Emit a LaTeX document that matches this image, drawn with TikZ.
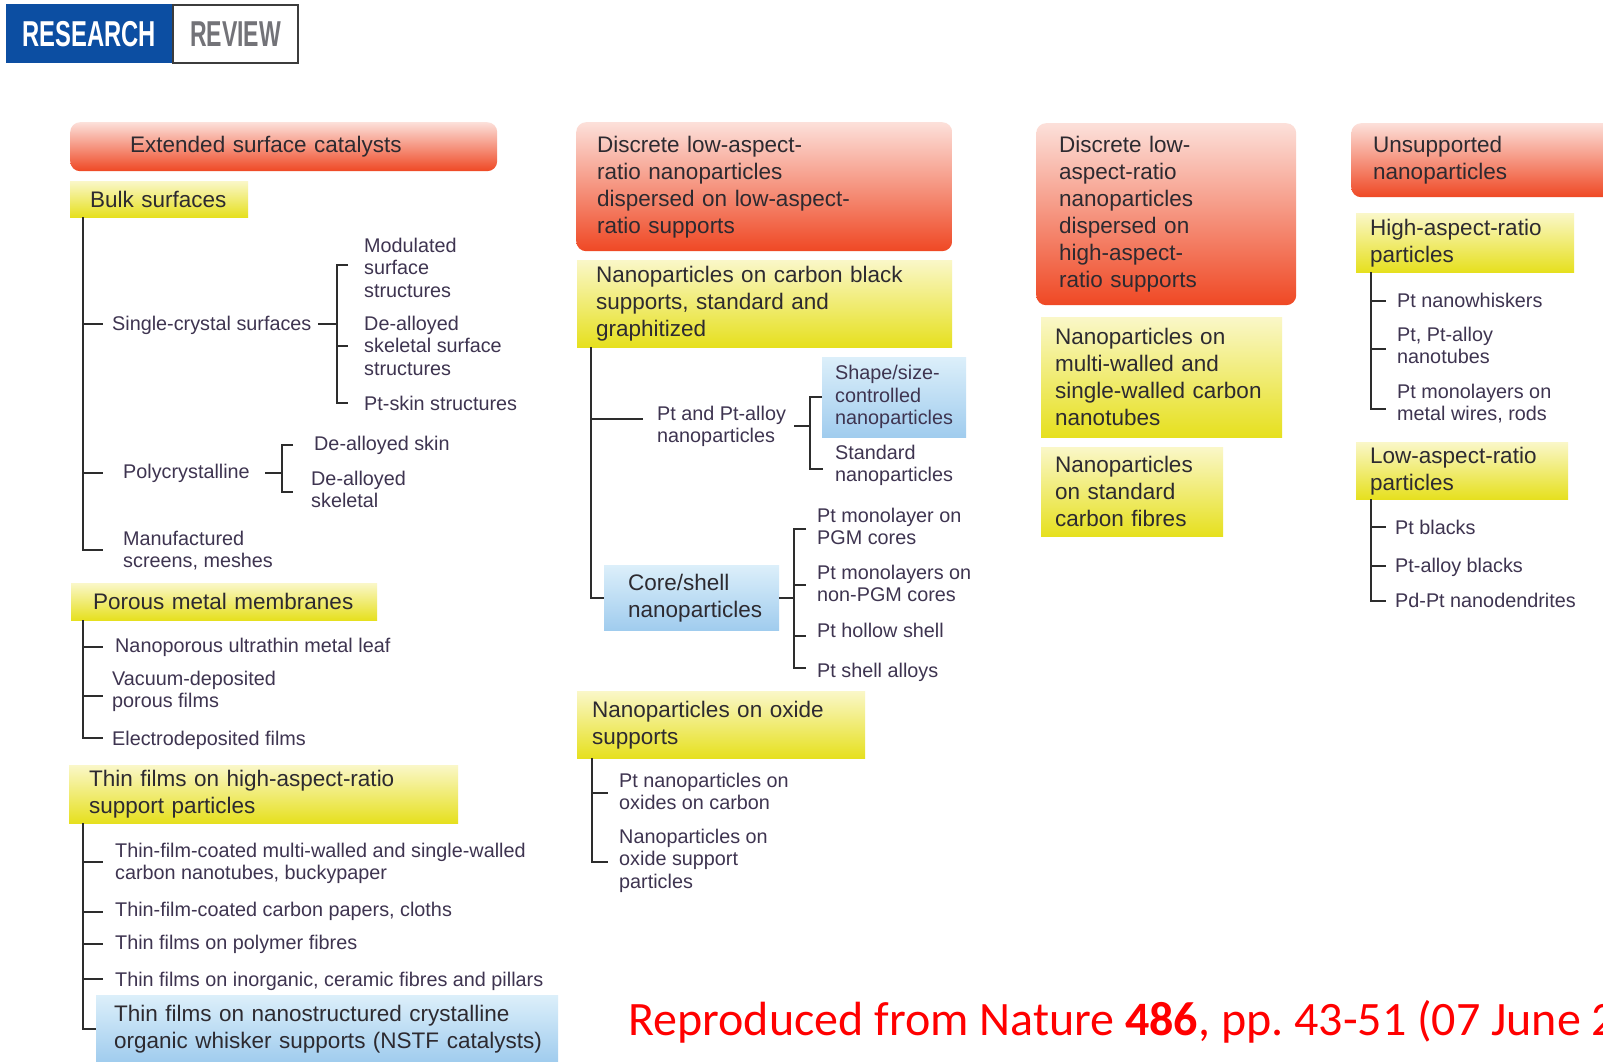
\documentclass[tikz,border=0pt]{standalone}
\usepackage{fontspec}
\usepackage{graphicx}
\setmainfont{Liberation Sans}
\newfontfamily\calib{Carlito}
\hyphenpenalty=10000
\exhyphenpenalty=10000
\frenchspacing
\definecolor{redtop}{RGB}{252,224,218}
\definecolor{redbot}{RGB}{239,72,36}
\definecolor{yeltop}{RGB}{250,247,200}
\definecolor{yelbot}{RGB}{230,224,30}
\definecolor{blutop}{RGB}{220,239,250}
\definecolor{blubot}{RGB}{160,204,238}
\definecolor{headc}{RGB}{45,42,48}
\definecolor{subc}{RGB}{62,52,80}
\definecolor{linec}{RGB}{45,45,45}
\definecolor{badgeblue}{RGB}{12,78,162}
\definecolor{revgrey}{RGB}{115,115,120}
\definecolor{revframe}{RGB}{60,60,60}
\definecolor{credred}{RGB}{255,0,0}
\newcommand\ml[1]{\begin{tabular}[t]{@{}l@{}}#1\end{tabular}}
\begin{document}
\begin{tikzpicture}[x=1pt,y=-1pt,
  hfont/.style={font=\fontsize{22.5}{27}\selectfont},
  sfont/.style={font=\fontsize{19.8}{22.5}\selectfont},
  boxbase/.style={rectangle, anchor=north west, inner ysep=0pt, align=left, text=headc, hfont},
  bx/.style n args={4}{minimum width=#1pt, minimum height=#2pt, inner xsep=#3pt, text width=#4pt},
  redbox/.style={boxbase, rounded corners=10pt, top color=redtop, bottom color=redbot},
  yelbox/.style={boxbase, top color=yeltop, bottom color=yelbot},
  blubox/.style={boxbase, top color=blutop, bottom color=blubot},
  leaf/.style={anchor=base west, inner sep=0pt, text=subc, sfont},
  tree/.style={draw=linec, line width=1.6pt},
]
\useasboundingbox (0,0) rectangle (1603,1062);
\clip (0,0) rectangle (1603,1062);
\fill[white] (0,0) rectangle (1603,1062);

% badge
\node[fill=badgeblue, anchor=north west, minimum width=166pt, minimum height=59pt, inner sep=0pt,
  text=white, font=\bfseries\fontsize{36}{36}\selectfont] (res) at (6,4) {\scalebox{0.66}[1]{RESEARCH}};
\node[draw=revframe, line width=2pt, fill=white, anchor=north west, minimum width=125pt, minimum height=58pt,
  inner sep=0pt, text=revgrey, font=\bfseries\fontsize{36}{36}\selectfont] (rev) at (172,4) {\scalebox{0.64}[1]{REVIEW}};

% ---------------- column 1
\node[redbox, bx={427}{49}{60}{307}] (ext) at (70,122) {Extended surface catalysts};
\node[yelbox, bx={178}{36}{20}{138}] (bulk) at (70,181) {\mbox{Bulk surfaces}};

\node[leaf] (single) at (112,330) {Single-crystal surfaces};
\node[leaf] (modul) at (364,252) {\ml{Modulated\\surface\\structures}};
\node[leaf] (dealsk) at (364,330) {\ml{De-alloyed\\skeletal surface\\structures}};
\node[leaf] (ptskin) at (364,410) {Pt-skin structures};
\node[leaf] (poly) at (123,478) {Polycrystalline};
\node[leaf] (dskin) at (314,450) {De-alloyed skin};
\node[leaf] (dskel) at (311,485) {\ml{De-alloyed\\skeletal}};
\node[leaf] (manuf) at (123,545) {\ml{Manufactured\\screens, meshes}};

\coordinate (b0) at (83,217);
\coordinate (bS) at (103,324);
\coordinate (bP) at (103,473);
\coordinate (bM) at (103,550);
\draw[tree] (b0) |- (bM);
\draw[tree] (b0 |- bS) -- (bS);
\draw[tree] (b0 |- bP) -- (bP);

\coordinate (sA) at (318,324);
\coordinate (sB) at (337,324);
\coordinate (s1) at (348,265);
\coordinate (s2) at (348,346);
\coordinate (s3) at (348,403);
\draw[tree] (sA) -- (sB);
\draw[tree] (s1) -| (sB) |- (s3);
\draw[tree] (sB |- s2) -- (s2);

\coordinate (pA) at (265,473);
\coordinate (pB) at (282,473);
\coordinate (p1) at (293,445);
\coordinate (p2) at (293,492);
\draw[tree] (pA) -- (pB);
\draw[tree] (p1) -| (pB) |- (p2);

\node[yelbox, bx={306}{37}{22}{262}] (porous) at (71,583) {\mbox{Porous metal membranes}};
\node[leaf] (nanop) at (115,652) {Nanoporous ultrathin metal leaf};
\node[leaf] (vacuum) at (112,685) {\ml{Vacuum-deposited\\porous films}};
\node[leaf] (electro) at (112,745) {Electrodeposited films};
\coordinate (m0) at (83,620);
\coordinate (m1) at (103,647);
\coordinate (m2) at (103,696);
\coordinate (m3) at (103,738);
\draw[tree] (m0) |- (m3);
\draw[tree] (m0 |- m1) -- (m1);
\draw[tree] (m0 |- m2) -- (m2);

\node[yelbox, bx={389}{58}{20}{349}] (thin) at (69,765) {\mbox{Thin films on high-aspect-ratio}\\\mbox{support particles}};
\node[leaf] (tf1) at (115,857) {\ml{Thin-film-coated multi-walled and single-walled\\carbon nanotubes, buckypaper}};
\node[leaf] (tf2) at (115,916) {Thin-film-coated carbon papers, cloths};
\node[leaf] (tf3) at (115,949) {Thin films on polymer fibres};
\node[leaf] (tf4) at (115,986) {Thin films on inorganic, ceramic fibres and pillars};
\node[blubox, bx={462}{67}{18}{426}] (nstf) at (96,995) {\mbox{Thin films on nanostructured crystalline}\\\mbox{organic whisker supports (NSTF catalysts)}};
\coordinate (t0) at (83,823);
\coordinate (t1) at (103,862);
\coordinate (t2) at (103,912);
\coordinate (t3) at (103,944);
\coordinate (t4) at (103,979);
\draw[tree] (t0) |- (nstf.west);
\draw[tree] (t0 |- t1) -- (t1);
\draw[tree] (t0 |- t2) -- (t2);
\draw[tree] (t0 |- t3) -- (t3);
\draw[tree] (t0 |- t4) -- (t4);

% ---------------- column 2
\node[redbox, bx={376}{129}{21}{334}] (disc1) at (576,122) {Discrete low-aspect-\\ratio nanoparticles\\dispersed on low-aspect-\\ratio supports};
\node[yelbox, bx={375}{87}{19}{337}] (cb) at (577,260) {\mbox{Nanoparticles on carbon black}\\supports, standard and\\graphitized};
\node[leaf] (ptalloy) at (657,420) {\ml{Pt and Pt-alloy\\nanoparticles}};
\node[blubox, bx={144}{80}{13}{118}, sfont, text=subc] (shape) at (822,357) {Shape/size-\\controlled\\\mbox{nanoparticles}};
\node[leaf] (stdnp) at (835,459) {\ml{Standard\\nanoparticles}};
\node[blubox, bx={175}{65}{24}{127}] (core) at (604,565) {Core/shell\\\mbox{nanoparticles}};
\node[leaf] (cs1) at (817,522) {\ml{Pt monolayer on\\PGM cores}};
\node[leaf] (cs2) at (817,579) {\ml{Pt monolayers on\\non-PGM cores}};
\node[leaf] (cs3) at (817,637) {Pt hollow shell};
\node[leaf] (cs4) at (817,677) {Pt shell alloys};

\coordinate (c0) at (591,347);
\coordinate (cP) at (643,419);
\draw[tree] (c0) |- (core.west);
\draw[tree] (c0 |- cP) -- (cP);
\coordinate (qA) at (794,426);
\coordinate (qB) at (810,426);
\coordinate (q2) at (823,469);
\draw[tree] (qA) -- (qB);
\draw[tree] (shape.west) -| (qB) |- (q2);
\coordinate (cB) at (794,597);
\coordinate (k1) at (806,529);
\coordinate (k2) at (806,585);
\coordinate (k3) at (806,636);
\coordinate (k4) at (806,668);
\draw[tree] (core.east) -- (core.east -| cB);
\draw[tree] (k1) -| (cB) |- (k4);
\draw[tree] (cB |- k2) -- (k2);
\draw[tree] (cB |- k3) -- (k3);

\node[yelbox, bx={288}{67}{15}{258}] (oxide) at (577,691) {\mbox{Nanoparticles on oxide}\\supports};
\node[leaf] (ox1) at (619,787) {\ml{Pt nanoparticles on\\oxides on carbon}};
\node[leaf] (ox2) at (619,843) {\ml{Nanoparticles on\\oxide support\\particles}};
\coordinate (o0) at (592,758);
\coordinate (o1) at (608,793);
\coordinate (o2) at (608,862);
\draw[tree] (o0) |- (o2);
\draw[tree] (o0 |- o1) -- (o1);

% ---------------- column 3
\node[redbox, bx={260}{182}{23}{214}] (disc2) at (1036,123) {Discrete low-\\aspect-ratio\\nanoparticles\\dispersed on\\high-aspect-\\ratio supports};
\node[yelbox, bx={241}{120}{14}{213}] (mw) at (1041,317) {Nanoparticles on\\multi-walled and\\\mbox{single-walled carbon}\\nanotubes};
\node[yelbox, bx={182}{89}{14}{154}] (cf) at (1041,447) {Nanoparticles\\on standard\\\mbox{carbon fibres}};

% ---------------- column 4
\node[redbox, bx={300}{74}{22}{256}] (unsup) at (1351,123) {Unsupported\\nanoparticles};
\node[yelbox, bx={218}{59}{14}{190}] (hi) at (1356,213) {\mbox{High-aspect-ratio}\\particles};
\node[leaf] (h1) at (1397,307) {Pt nanowhiskers};
\node[leaf] (h2) at (1397,341) {\ml{Pt, Pt-alloy\\nanotubes}};
\node[leaf] (h3) at (1397,398) {\ml{Pt monolayers on\\metal wires, rods}};
\coordinate (u0) at (1371,272);
\coordinate (u1) at (1386,301);
\coordinate (u2) at (1386,349);
\coordinate (u3) at (1386,409);
\draw[tree] (u0) |- (u3);
\draw[tree] (u0 |- u1) -- (u1);
\draw[tree] (u0 |- u2) -- (u2);

\node[yelbox, bx={212}{57}{14}{184}] (lo) at (1356,442) {\mbox{Low-aspect-ratio}\\particles};
\node[leaf] (l1) at (1395,534) {Pt blacks};
\node[leaf] (l2) at (1395,572) {Pt-alloy blacks};
\node[leaf] (l3) at (1395,607) {Pd-Pt nanodendrites};
\coordinate (w0) at (1371,499);
\coordinate (w1) at (1386,527);
\coordinate (w2) at (1386,566);
\coordinate (w3) at (1386,601);
\draw[tree] (w0) |- (w3);
\draw[tree] (w0 |- w1) -- (w1);
\draw[tree] (w0 |- w2) -- (w2);

% credit
\node[anchor=base west, inner sep=0pt, text=credred, font=\calib\fontsize{48}{54}\selectfont] (cred) at (628,1035)
  {Reproduced from Nature \textbf{486}, pp. 43-51 (07 June 2012)};
\end{tikzpicture}
\end{document}
